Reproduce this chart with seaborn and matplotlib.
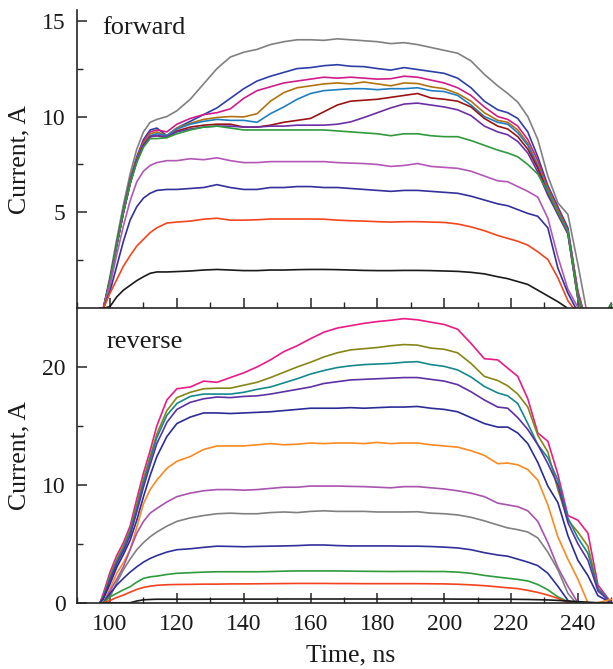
import matplotlib
matplotlib.use("Agg")
import matplotlib.pyplot as plt
from matplotlib.ticker import FixedLocator, MultipleLocator
import numpy as np
import pandas as pd
import seaborn as sns

sns.set_theme(style="white")
plt.rcParams["font.family"] = ["Liberation Serif", "DejaVu Serif"]

# sampling times of the current pulses, ns
time_ns = [97, 98, 100, 102, 104, 106, 108, 110, 112, 114,
           117, 120, 124, 128, 132, 136, 140, 144, 148, 152,
           156, 160, 164, 168, 172, 176, 180, 184, 188, 192,
           196, 200, 204, 208, 212, 216, 219, 222, 225, 228,
           231, 234, 237, 240, 243, 246, 250]

# ---- forward bias, current in A ----
fwd_01 = [0, 0, 1.7, 3.6, 5.4, 7.0, 8.3, 9.2, 9.7, 9.85,
          10.0, 10.3, 10.9, 11.7, 12.5, 13.1, 13.35, 13.5, 13.75, 13.9,
          14.0, 14.0, 13.97, 14.05, 14.0, 13.95, 13.9, 13.8, 13.85, 13.75,
          13.6, 13.45, 13.3, 12.9, 12.2, 11.6, 11.2, 10.75, 10.0, 8.8,
          6.9, 5.5, 4.9, 2.3, -0.5, -1.0, 0.3]
fwd_02 = [0, 0, 1.5, 3.4, 5.1, 6.7, 7.9, 8.8, 9.3, 9.4,
          9.0, 9.4, 9.75, 10.1, 10.45, 10.95, 11.45, 11.85, 12.1, 12.3,
          12.5, 12.55, 12.65, 12.7, 12.62, 12.6, 12.5, 12.42, 12.55, 12.45,
          12.35, 12.25, 12.0, 11.5, 10.8, 10.35, 10.2, 9.9, 9.2, 7.9,
          6.4, 5.3, 4.2, 0.8, -1.0, -1.0, 0.2]
fwd_03 = [0, 0, 1.5, 3.3, 5.0, 6.6, 7.8, 8.7, 9.2, 9.3,
          9.2, 9.6, 9.9, 10.1, 10.2, 10.4, 10.95, 11.35, 11.55, 11.75,
          11.85, 11.95, 12.05, 12.0, 12.05, 12.0, 11.95, 11.97, 12.1, 12.05,
          11.9, 11.75, 11.5, 11.1, 10.5, 10.0, 9.85, 9.5, 8.8, 7.7,
          6.3, 5.2, 4.1, 0.9, -1.0, -1.0, 0.2]
fwd_04 = [0, 0, 1.5, 3.3, 5.0, 6.6, 7.8, 8.6, 9.1, 9.2,
          9.0, 9.4, 9.65, 9.85, 9.95, 10.0, 9.98, 10.15, 10.8, 11.25,
          11.5, 11.6, 11.7, 11.75, 11.7, 11.8, 11.7, 11.6, 11.75, 11.72,
          11.55, 11.45, 11.2, 10.8, 10.2, 9.8, 9.7, 9.3, 8.6, 7.5,
          6.2, 5.1, 4.0, 0.7, -1.0, -1.0, 0.2]
fwd_05 = [0, 0, 1.5, 3.3, 5.0, 6.5, 7.7, 8.5, 9.0, 9.1,
          9.0, 9.35, 9.6, 9.75, 9.85, 9.8, 9.8, 9.7, 10.15, 10.5,
          10.9, 11.2, 11.35, 11.4, 11.45, 11.45, 11.4, 11.45, 11.45, 11.5,
          11.35, 11.3, 11.1, 10.6, 10.0, 9.7, 9.6, 9.15, 8.5, 7.4,
          6.1, 5.0, 4.0, 0.6, -1.0, -1.0, 0.2]
fwd_06 = [0, 0, 1.5, 3.3, 5.0, 6.5, 7.7, 8.5, 8.95, 9.0,
          8.9, 9.25, 9.45, 9.55, 9.6, 9.6, 9.45, 9.45, 9.55, 9.7,
          9.8, 9.9, 10.25, 10.6, 10.8, 10.85, 10.9, 11.0, 11.1, 11.2,
          10.97, 10.9, 10.8, 10.5, 9.9, 9.5, 9.35, 8.95, 8.3, 7.3,
          6.0, 4.9, 3.9, 0.5, -1.0, -1.0, 0.2]
fwd_07 = [0, 0, 1.5, 3.3, 5.0, 6.5, 7.7, 8.5, 8.95, 9.0,
          8.95, 9.2, 9.35, 9.45, 9.5, 9.5, 9.45, 9.45, 9.5, 9.5,
          9.55, 9.55, 9.55, 9.6, 9.72, 9.95, 10.2, 10.45, 10.65, 10.7,
          10.6, 10.5, 10.35, 10.05, 9.5, 9.2, 9.05, 8.7, 8.1, 7.1,
          5.9, 4.9, 3.9, 0.5, -1.0, -1.0, 0.2]
fwd_08 = [0, 0, 1.5, 3.3, 5.0, 6.5, 7.6, 8.4, 8.85, 8.85,
          8.9, 9.1, 9.3, 9.45, 9.5, 9.4, 9.3, 9.3, 9.3, 9.3,
          9.3, 9.3, 9.3, 9.25, 9.2, 9.15, 9.1, 9.0, 9.1, 9.1,
          9.0, 8.95, 8.95, 8.75, 8.5, 8.25, 8.1, 7.9, 7.5, 7.0,
          6.1, 5.0, 4.0, 0.5, -1.0, -1.0, 0.2]
fwd_09 = [0, 0, 1.2, 2.8, 4.3, 5.6, 6.6, 7.15, 7.45, 7.6,
          7.7, 7.7, 7.8, 7.75, 7.85, 7.7, 7.6, 7.6, 7.65, 7.65,
          7.65, 7.65, 7.65, 7.6, 7.57, 7.55, 7.5, 7.4, 7.45, 7.55,
          7.4, 7.35, 7.3, 7.15, 6.9, 6.65, 6.6, 6.35, 6.1, 5.8,
          4.7, 2.7, 1.0, 0.05, -0.5, -0.5, 0]
fwd_10 = [0, 0, 0.9, 2.2, 3.5, 4.6, 5.3, 5.75, 6.0, 6.15,
          6.2, 6.2, 6.25, 6.3, 6.45, 6.3, 6.2, 6.2, 6.3, 6.3,
          6.35, 6.35, 6.3, 6.3, 6.25, 6.2, 6.15, 6.1, 6.15, 6.15,
          6.1, 6.05, 6.0, 5.85, 5.65, 5.45, 5.35, 5.15, 4.95, 4.8,
          4.2, 2.1, 0.8, -0.2, -0.5, -0.5, 0]
fwd_11 = [0, 0, 0.8, 1.5, 2.2, 2.75, 3.25, 3.6, 3.95, 4.2,
          4.45, 4.5, 4.55, 4.65, 4.7, 4.6, 4.6, 4.62, 4.66, 4.66,
          4.66, 4.66, 4.65, 4.6, 4.57, 4.55, 4.52, 4.5, 4.52, 4.52,
          4.5, 4.48, 4.4, 4.25, 4.05, 3.8, 3.65, 3.5, 3.3, 2.95,
          2.55, 1.6, 0.4, -0.3, -0.5, -0.5, 0]
fwd_12 = [0, 0, 0.1, 0.6, 0.95, 1.2, 1.45, 1.65, 1.83, 1.9,
          1.9, 1.92, 1.95, 2.0, 2.03, 2.0, 1.97, 1.97, 2.0, 2.0,
          2.02, 2.03, 2.03, 2.02, 2.0, 1.98, 1.97, 1.97, 1.98, 1.98,
          1.97, 1.95, 1.93, 1.88, 1.8, 1.65, 1.55, 1.4, 1.25, 0.95,
          0.65, 0.35, 0.0, -0.3, -0.5, -0.5, 0]

fwd_colors = ["#808080", "#2d3fa6", "#d01c8b", "#b2720f", "#1f7fc2", "#991414",
              "#6b2fa5", "#2e9a3c", "#b257b6", "#33309a", "#f4451d", "#1a1a1a"]

# ---- reverse bias, current in A ----
rev_01 = [0, 0.8, 2.6, 4.0, 5.1, 6.5, 8.8, 11.0, 12.9, 15.0,
          17.2, 18.15, 18.3, 18.8, 18.7, 19.1, 19.5, 20.0, 20.6, 21.3,
          21.8, 22.4, 22.95, 23.3, 23.5, 23.7, 23.85, 23.96, 24.1, 24.0,
          23.8, 23.6, 23.2, 22.0, 20.7, 20.6, 19.9, 19.2, 17.3, 14.4,
          13.7, 10.9, 7.4, 7.0, 5.9, 1.5, 0]
rev_02 = [0, 0.6, 2.3, 3.7, 4.8, 6.2, 8.3, 10.5, 12.4, 14.3,
          16.3, 17.4, 17.85, 18.15, 18.2, 18.2, 18.45, 18.7, 19.1, 19.55,
          20.0, 20.4, 20.85, 21.2, 21.45, 21.55, 21.65, 21.8, 21.9, 21.85,
          21.6, 21.5, 21.2, 20.3, 19.2, 18.85, 18.4, 17.7, 16.6, 14.2,
          12.8, 9.6, 7.0, 6.0, 4.8, 1.2, 0]
rev_03 = [0, 0.5, 2.1, 3.5, 4.6, 6.0, 8.0, 10.2, 12.1, 14.0,
          15.9, 16.9, 17.5, 17.7, 17.7, 17.7, 17.85, 18.1, 18.3, 18.65,
          19.0, 19.4, 19.7, 19.95, 20.1, 20.2, 20.25, 20.3, 20.4, 20.45,
          20.2, 20.05, 19.75, 19.15, 18.35, 17.8, 17.55, 16.9, 15.2, 13.4,
          12.3, 10.4, 7.2, 5.5, 4.2, 1.2, 0]
rev_04 = [0, 0.4, 1.9, 3.3, 4.4, 5.7, 7.7, 9.8, 11.7, 13.5,
          15.3, 16.4, 17.0, 17.3, 17.45, 17.4, 17.5, 17.55, 17.7, 17.9,
          18.1, 18.3, 18.6, 18.75, 18.9, 18.95, 19.0, 19.05, 19.1, 19.1,
          18.95, 18.8, 18.5, 17.9, 17.2, 16.6, 16.5, 15.7, 14.7, 13.4,
          11.8, 10.0, 6.8, 5.0, 3.6, 1.0, 0]
rev_05 = [0, 0.3, 1.6, 3.0, 4.1, 5.3, 7.0, 9.0, 10.8, 12.4,
          14.1, 15.2, 15.75, 16.1, 16.1, 16.05, 16.1, 16.15, 16.2, 16.3,
          16.4, 16.5, 16.5, 16.5, 16.55, 16.5, 16.55, 16.6, 16.6, 16.65,
          16.5, 16.4, 16.2, 15.7, 15.2, 14.9, 14.9, 14.4, 13.5, 11.9,
          9.9, 8.5, 5.7, 3.6, 2.3, 0.6, 0]
rev_06 = [0, 0, 1.2, 2.5, 3.4, 4.5, 6.4, 8.4, 9.6, 10.4,
          11.4, 12.0, 12.4, 13.0, 13.3, 13.3, 13.3, 13.4, 13.5, 13.4,
          13.45, 13.55, 13.5, 13.55, 13.55, 13.5, 13.6, 13.5, 13.55, 13.55,
          13.4, 13.3, 13.2, 12.9, 12.5, 11.8, 11.85, 11.7, 11.3, 10.4,
          8.3, 5.6, 3.7, 2.0, 0.0, 0.0, 0.3]
rev_07 = [0, 0, 1.0, 2.0, 3.05, 4.5, 5.9, 6.9, 7.6, 8.0,
          8.55, 9.0, 9.3, 9.5, 9.6, 9.6, 9.55, 9.6, 9.7, 9.8,
          9.8, 9.9, 9.9, 9.9, 9.87, 9.85, 9.8, 9.75, 9.85, 9.85,
          9.75, 9.65, 9.5, 9.3, 9.0, 8.45, 8.3, 8.15, 7.8, 6.9,
          5.1, 3.0, 1.4, 0.0, -0.2, 0, 0]
rev_08 = [0, 0, 0.5, 1.7, 2.8, 3.7, 4.5, 5.1, 5.6, 6.0,
          6.5, 6.9, 7.2, 7.4, 7.55, 7.6, 7.55, 7.55, 7.65, 7.7,
          7.65, 7.75, 7.8, 7.75, 7.75, 7.75, 7.7, 7.7, 7.7, 7.72,
          7.6, 7.55, 7.45, 7.25, 6.95, 6.6, 6.35, 6.2, 6.0, 5.5,
          4.3, 2.8, 0.8, -0.2, -0.2, 0, 0]
rev_09 = [0, 0, 0.8, 1.5, 2.07, 2.6, 3.05, 3.45, 3.76, 4.0,
          4.3, 4.5, 4.58, 4.7, 4.8, 4.78, 4.75, 4.78, 4.8, 4.82,
          4.85, 4.9, 4.9, 4.85, 4.82, 4.82, 4.82, 4.82, 4.8, 4.8,
          4.77, 4.72, 4.65, 4.5, 4.25, 4.05, 3.95, 3.7, 3.45, 3.15,
          2.5, 1.4, 0.2, -0.2, -0.2, 0, 0]
rev_10 = [0, 0, 0.5, 0.8, 1.1, 1.36, 1.75, 2.07, 2.2, 2.26,
          2.4, 2.5, 2.55, 2.6, 2.63, 2.63, 2.63, 2.63, 2.65, 2.68,
          2.7, 2.7, 2.7, 2.7, 2.68, 2.67, 2.66, 2.65, 2.66, 2.66,
          2.65, 2.65, 2.6, 2.5, 2.32, 2.18, 2.08, 1.98, 1.85, 1.55,
          1.1, 0.5, 0.1, -0.1, -0.1, 0, 0]
rev_11 = [0, 0, 0.2, 0.45, 0.65, 0.9, 1.13, 1.3, 1.41, 1.48,
          1.53, 1.55, 1.56, 1.58, 1.58, 1.6, 1.6, 1.61, 1.62, 1.63,
          1.64, 1.64, 1.64, 1.63, 1.63, 1.62, 1.62, 1.62, 1.62, 1.62,
          1.61, 1.6, 1.57, 1.52, 1.45, 1.35, 1.27, 1.2, 1.05, 0.88,
          0.65, 0.38, 0.0, -0.1, -0.1, 0, 0]
rev_12 = [0, 0, 0, 0, 0, 0, 0.15, 0.25, 0.28, 0.3,
          0.3, 0.3, 0.3, 0.3, 0.31, 0.31, 0.31, 0.31, 0.31, 0.32,
          0.32, 0.32, 0.32, 0.32, 0.32, 0.32, 0.32, 0.32, 0.32, 0.32,
          0.32, 0.32, 0.31, 0.31, 0.3, 0.3, 0.3, 0.29, 0.28, 0.26,
          0.24, 0.2, 0.15, 0.1, 0.05, 0, 0]

rev_colors = ["#ec1a86", "#868616", "#14898b", "#5e30a4", "#2b2b96", "#fa8a20",
              "#a853ae", "#808080", "#30309b", "#2e9a3c", "#f2421e", "#1a1a1a"]

forward_traces = [fwd_01, fwd_02, fwd_03, fwd_04, fwd_05, fwd_06,
                  fwd_07, fwd_08, fwd_09, fwd_10, fwd_11, fwd_12]
reverse_traces = [rev_01, rev_02, rev_03, rev_04, rev_05, rev_06,
                  rev_07, rev_08, rev_09, rev_10, rev_11, rev_12]


def long_table(traces, prefix):
    names = [f"{prefix}{i + 1}" for i in range(len(traces))]
    frame = pd.DataFrame({
        "time": np.tile(time_ns, len(traces)),
        "current": np.concatenate([np.asarray(tr, float) for tr in traces]),
        "trace": np.repeat(names, len(time_ns)),
    })
    return frame, names


def draw_panel(ax, traces, colors, prefix):
    frame, names = long_table(traces, prefix)
    sns.lineplot(data=frame, x="time", y="current", hue="trace",
                 hue_order=names, palette=dict(zip(names, colors)),
                 estimator=None, sort=False, legend=False,
                 linewidth=1.2, ax=ax)


def style_panel(ax, major_y, minor_y, ylim, show_xlabels):
    ax.set_xlim(90, 250.5)
    ax.set_ylim(*ylim)
    ax.xaxis.set_major_locator(MultipleLocator(20))
    ax.xaxis.set_minor_locator(MultipleLocator(10))
    ax.yaxis.set_major_locator(FixedLocator(major_y))
    ax.yaxis.set_minor_locator(FixedLocator(minor_y))
    for side in ("top", "right"):
        ax.spines[side].set_visible(False)
    for side in ("left", "bottom"):
        ax.spines[side].set_color("#262626")
        ax.spines[side].set_linewidth(1.2)
        ax.spines[side].set_zorder(5)
    ax.tick_params(which="both", bottom=True, left=True, top=False,
                   right=False, direction="in")
    ax.tick_params(which="major", length=7, width=1.1,
                   color="#262626", labelsize=17, pad=8, labelcolor="#1a1a1a")
    ax.tick_params(which="minor", length=4.5, width=1.0, color="#262626")
    ax.tick_params(axis="x", labelbottom=show_xlabels)
    ax.set_xlabel("")
    ax.set_ylabel("Current, A", fontsize=18.5, color="#1a1a1a", va="center")
    ax.yaxis.set_label_coords(-0.107, 0.5)
    ax.grid(False)
    ax.patch.set_alpha(0)


fig = plt.figure(figsize=(6.13, 6.69), dpi=100)
ax_fwd = fig.add_axes([0.125, 0.539, 0.875, 0.446])
ax_rev = fig.add_axes([0.125, 0.099, 0.875, 0.4406])

draw_panel(ax_fwd, forward_traces, fwd_colors, "f")
draw_panel(ax_rev, reverse_traces, rev_colors, "r")

style_panel(ax_fwd, [5, 10, 15], [2.5, 7.5, 12.5], (0, 15.55), False)
style_panel(ax_rev, [0, 10, 20], [5, 15], (0, 25.0), True)

ax_rev.set_xlabel("Time, ns", fontsize=18.5, color="#1a1a1a")
ax_rev.xaxis.set_label_coords(0.51, -0.143)

ax_fwd.text(97.7, 14.6, "forward", fontsize=19, ha="left", va="center",
            color="#1a1a1a")
ax_rev.text(98.8, 22.1, "reverse", fontsize=19, ha="left", va="center",
            color="#1a1a1a")

fig.savefig("out.png", dpi=100)
